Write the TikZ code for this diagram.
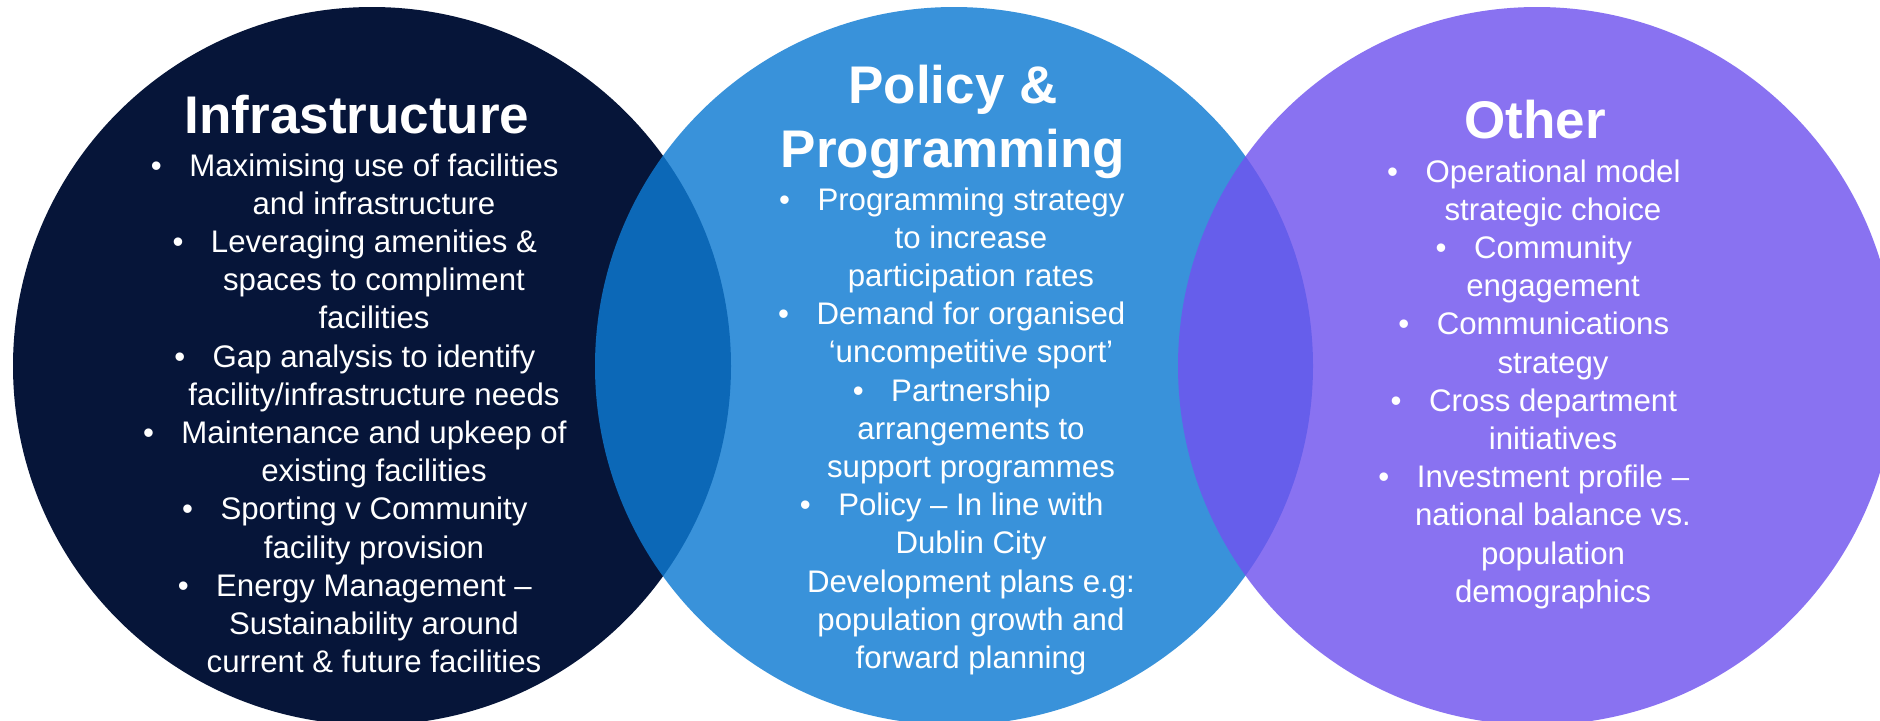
\documentclass[tikz,border=0pt]{standalone}
\usepackage{fontspec}
\setmainfont{Liberation Sans}
\definecolor{navyc}{RGB}{6,21,57}
\definecolor{bluec}{RGB}{14,123,211}
\definecolor{violetc}{RGB}{112,83,239}
\newcommand\bulmark{\llap{\textbullet\hspace{13.75pt}}}
\tikzset{
  ctitle/.style={text=white, font=\fontsize{26.5pt}{32pt}\selectfont\bfseries, align=center, inner sep=0pt, anchor=base},
  cbody/.style={text=white, font=\fontsize{15.6pt}{19.1pt}\selectfont, align=center, inner sep=0pt, anchor=base},
  disc/.style={fill opacity=0.82}
}
\begin{document}
\begin{tikzpicture}[x=0.5pt,y=-0.5pt]
\useasboundingbox (0,0) rectangle (1880,720);
\fill[white] (0,0) rectangle (1880,720);
\fill[navyc] (372,366) circle[radius=359];
\fill[bluec,disc] (954,366) circle[radius=359];
\fill[violetc,disc] (1537,366) circle[radius=359];

% anchor=base of a multi-line node is the baseline of its last line
\node[ctitle] (t1) at (357,133) {Infrastructure};
\node[cbody] (b1) at (374,672.6) {\bulmark Maximising use of facilities\\and infrastructure\\
\bulmark Leveraging amenities \&\\spaces to compliment\\facilities\\
\bulmark Gap analysis to identify\\facility/infrastructure needs\\
\bulmark Maintenance and upkeep of\\existing facilities\\
\bulmark Sporting v Community\\facility provision\\
\bulmark Energy Management –\\Sustainability around\\current \& future facilities};

\node[ctitle] (t2) at (953,167) {Policy \&\\Programming};
\node[cbody] (b2) at (971,668.4) {\bulmark Programming strategy\\to increase\\participation rates\\
\bulmark Demand for organised\\‘uncompetitive sport’\\
\bulmark Partnership\\arrangements to\\support programmes\\
\bulmark Policy – In line with\\Dublin City\\Development plans e.g:\\population growth and\\forward planning};

\node[ctitle] (t3) at (1535,138) {Other};
\node[cbody] (b3) at (1553,602.2) {\bulmark Operational model\\strategic choice\\
\bulmark Community\\engagement\\
\bulmark Communications\\strategy\\
\bulmark Cross department\\initiatives\\
\bulmark Investment profile –\\national balance vs.\\population\\demographics};
\end{tikzpicture}
\end{document}
